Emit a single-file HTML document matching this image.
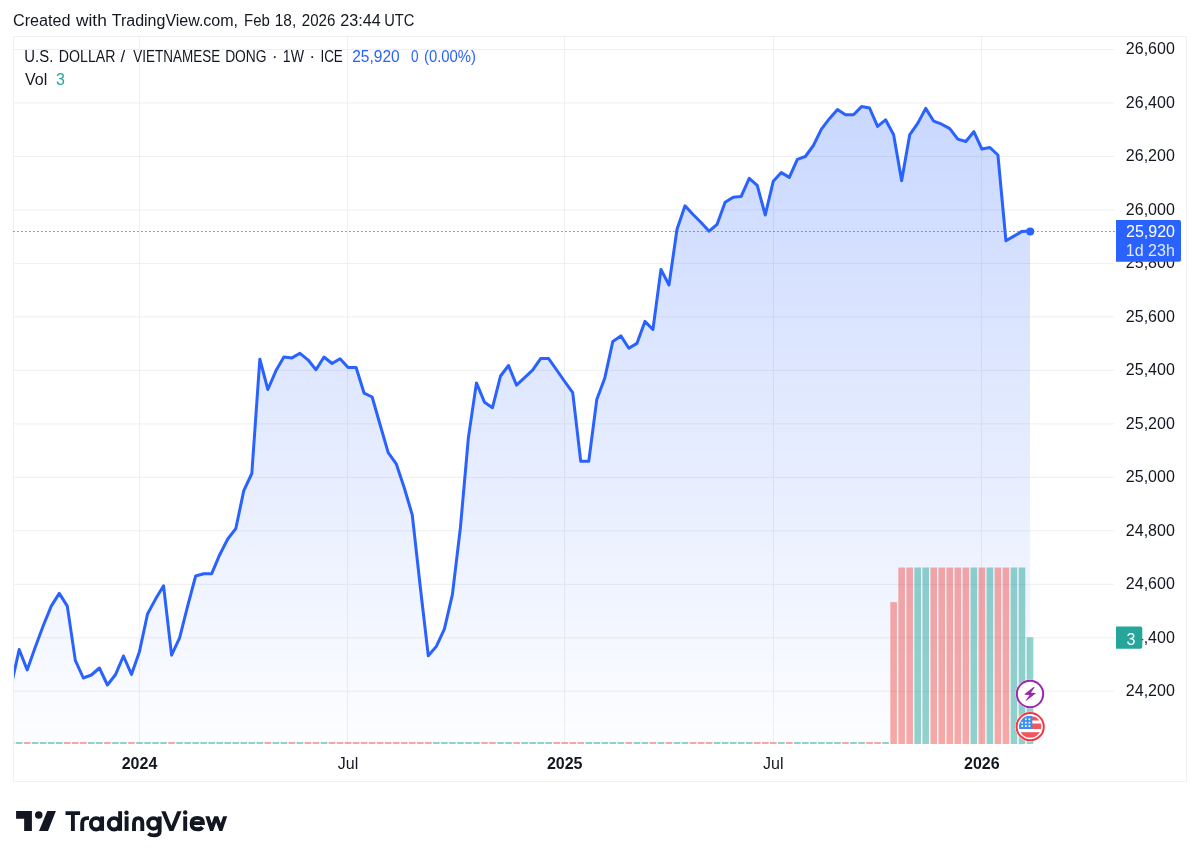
<!DOCTYPE html>
<html><head><meta charset="utf-8"><style>
html,body{margin:0;padding:0;background:#fff;width:1200px;height:862px;overflow:hidden}
svg{display:block;will-change:transform}
text{font-family:"Liberation Sans",sans-serif;fill:#131722}
</style></head><body>
<svg width="1200" height="862" viewBox="0 0 1200 862">
<defs>
<linearGradient id="ag" x1="0" y1="106.6" x2="0" y2="744" gradientUnits="userSpaceOnUse">
<stop offset="0" stop-color="#2962ff" stop-opacity="0.25"/>
<stop offset="1" stop-color="#2962ff" stop-opacity="0.01"/>
</linearGradient>
<clipPath id="pane"><rect x="14" y="37" width="1100" height="707"/></clipPath>
</defs>
<g font-size="16">
<text x="12.99" y="26.2" textLength="57.54" lengthAdjust="spacingAndGlyphs">Created</text>
<text x="76.00" y="26.2" textLength="30.74" lengthAdjust="spacingAndGlyphs">with</text>
<text x="111.75" y="26.2" textLength="126.23" lengthAdjust="spacingAndGlyphs">TradingView.com,</text>
<text x="244.07" y="26.2" textLength="25.78" lengthAdjust="spacingAndGlyphs">Feb</text>
<text x="274.74" y="26.2" textLength="21.47" lengthAdjust="spacingAndGlyphs">18,</text>
<text x="301.76" y="26.2" textLength="33.55" lengthAdjust="spacingAndGlyphs">2026</text>
<text x="340.19" y="26.2" textLength="40.46" lengthAdjust="spacingAndGlyphs">23:44</text>
<text x="384.28" y="26.2" textLength="30.13" lengthAdjust="spacingAndGlyphs">UTC</text>
</g>
<rect x="13.5" y="36.5" width="1173" height="745" fill="none" stroke="#f0f0f0"/>
<g stroke="#efefef" stroke-width="1">
<line x1="14" y1="691.26" x2="1114" y2="691.26"/>
<line x1="14" y1="637.78" x2="1114" y2="637.78"/>
<line x1="14" y1="584.3" x2="1114" y2="584.3"/>
<line x1="14" y1="530.82" x2="1114" y2="530.82"/>
<line x1="14" y1="477.34" x2="1114" y2="477.34"/>
<line x1="14" y1="423.86" x2="1114" y2="423.86"/>
<line x1="14" y1="370.38" x2="1114" y2="370.38"/>
<line x1="14" y1="316.9" x2="1114" y2="316.9"/>
<line x1="14" y1="263.42" x2="1114" y2="263.42"/>
<line x1="14" y1="209.94" x2="1114" y2="209.94"/>
<line x1="14" y1="156.46" x2="1114" y2="156.46"/>
<line x1="14" y1="102.98" x2="1114" y2="102.98"/>
<line x1="14" y1="49.5" x2="1114" y2="49.5"/>
<line x1="139.4" y1="37" x2="139.4" y2="744"/>
<line x1="347.6" y1="37" x2="347.6" y2="744"/>
<line x1="564.5" y1="37" x2="564.5" y2="744"/>
<line x1="773.5" y1="37" x2="773.5" y2="744"/>
<line x1="981.6" y1="37" x2="981.6" y2="744"/>
</g>
<g clip-path="url(#pane)">
<path d="M11.14,686.00 L19.16,649.50 L27.18,669.90 L35.21,647.20 L43.23,625.70 L51.25,606.10 L59.27,593.40 L67.30,606.10 L75.32,660.40 L83.34,678.00 L91.36,675.00 L99.39,668.00 L107.41,685.00 L115.43,674.80 L123.45,656.00 L131.48,674.40 L139.50,651.40 L147.52,614.00 L155.55,599.10 L163.57,585.80 L171.59,655.20 L179.61,637.90 L187.63,606.20 L195.66,576.00 L203.68,573.70 L211.70,573.70 L219.73,554.70 L227.75,539.00 L235.77,528.70 L243.79,490.60 L251.81,473.50 L259.84,359.20 L267.86,389.50 L275.88,370.80 L283.91,357.00 L291.93,357.90 L299.95,353.30 L307.97,359.80 L316.00,369.70 L324.02,357.00 L332.04,363.50 L340.06,358.70 L348.09,367.40 L356.11,367.50 L364.13,393.20 L372.15,397.00 L380.18,425.00 L388.20,452.70 L396.22,463.80 L404.24,487.80 L412.27,514.90 L420.29,587.00 L428.31,655.80 L436.33,646.40 L444.36,629.20 L452.38,594.70 L460.40,527.60 L468.42,437.40 L476.45,382.90 L484.47,402.20 L492.49,407.70 L500.51,376.00 L508.54,365.50 L516.56,385.20 L524.58,377.60 L532.60,370.20 L540.62,358.60 L548.65,358.60 L556.67,370.00 L564.69,381.50 L572.72,392.70 L580.74,461.30 L588.76,461.30 L596.78,399.60 L604.81,377.90 L612.83,341.40 L620.85,335.90 L628.87,348.30 L636.89,343.40 L644.92,321.40 L652.94,329.50 L660.96,269.40 L668.99,285.00 L677.01,229.30 L685.03,205.80 L693.05,214.50 L701.08,222.50 L709.10,231.20 L717.12,224.30 L725.14,202.20 L733.17,197.20 L741.19,196.40 L749.21,178.40 L757.23,185.40 L765.26,215.00 L773.28,181.20 L781.30,172.60 L789.32,177.40 L797.35,159.30 L805.37,156.50 L813.39,145.50 L821.41,129.20 L829.44,118.70 L837.46,109.60 L845.48,114.80 L853.50,114.80 L861.53,106.60 L869.55,108.00 L877.57,126.40 L885.59,119.80 L893.62,134.70 L901.64,180.70 L909.66,134.90 L917.68,123.40 L925.71,108.40 L933.73,121.20 L941.75,124.20 L949.77,128.60 L957.80,139.10 L965.82,141.50 L973.84,131.70 L981.86,149.00 L989.89,147.50 L997.91,155.00 L1005.93,240.80 L1013.95,236.10 L1021.98,231.40 L1030.00,231.00 L1030.00,744 L11.14,744 Z" fill="url(#ag)"/>
<rect x="7.84" y="742.00" width="6.6" height="2.00" fill="rgba(38,166,154,0.5)"/>
<rect x="15.86" y="742.00" width="6.6" height="2.00" fill="rgba(38,166,154,0.5)"/>
<rect x="23.88" y="742.00" width="6.6" height="2.00" fill="rgba(239,83,80,0.5)"/>
<rect x="31.91" y="742.00" width="6.6" height="2.00" fill="rgba(38,166,154,0.5)"/>
<rect x="39.93" y="742.00" width="6.6" height="2.00" fill="rgba(38,166,154,0.5)"/>
<rect x="47.95" y="742.00" width="6.6" height="2.00" fill="rgba(38,166,154,0.5)"/>
<rect x="55.97" y="742.00" width="6.6" height="2.00" fill="rgba(38,166,154,0.5)"/>
<rect x="64.00" y="742.00" width="6.6" height="2.00" fill="rgba(239,83,80,0.5)"/>
<rect x="72.02" y="742.00" width="6.6" height="2.00" fill="rgba(239,83,80,0.5)"/>
<rect x="80.04" y="742.00" width="6.6" height="2.00" fill="rgba(239,83,80,0.5)"/>
<rect x="88.06" y="742.00" width="6.6" height="2.00" fill="rgba(38,166,154,0.5)"/>
<rect x="96.09" y="742.00" width="6.6" height="2.00" fill="rgba(38,166,154,0.5)"/>
<rect x="104.11" y="742.00" width="6.6" height="2.00" fill="rgba(239,83,80,0.5)"/>
<rect x="112.13" y="742.00" width="6.6" height="2.00" fill="rgba(38,166,154,0.5)"/>
<rect x="120.16" y="742.00" width="6.6" height="2.00" fill="rgba(38,166,154,0.5)"/>
<rect x="128.18" y="742.00" width="6.6" height="2.00" fill="rgba(239,83,80,0.5)"/>
<rect x="136.20" y="742.00" width="6.6" height="2.00" fill="rgba(38,166,154,0.5)"/>
<rect x="144.22" y="742.00" width="6.6" height="2.00" fill="rgba(38,166,154,0.5)"/>
<rect x="152.25" y="742.00" width="6.6" height="2.00" fill="rgba(38,166,154,0.5)"/>
<rect x="160.27" y="742.00" width="6.6" height="2.00" fill="rgba(38,166,154,0.5)"/>
<rect x="168.29" y="742.00" width="6.6" height="2.00" fill="rgba(239,83,80,0.5)"/>
<rect x="176.31" y="742.00" width="6.6" height="2.00" fill="rgba(38,166,154,0.5)"/>
<rect x="184.33" y="742.00" width="6.6" height="2.00" fill="rgba(38,166,154,0.5)"/>
<rect x="192.36" y="742.00" width="6.6" height="2.00" fill="rgba(38,166,154,0.5)"/>
<rect x="200.38" y="742.00" width="6.6" height="2.00" fill="rgba(38,166,154,0.5)"/>
<rect x="208.40" y="742.00" width="6.6" height="2.00" fill="rgba(38,166,154,0.5)"/>
<rect x="216.43" y="742.00" width="6.6" height="2.00" fill="rgba(38,166,154,0.5)"/>
<rect x="224.45" y="742.00" width="6.6" height="2.00" fill="rgba(38,166,154,0.5)"/>
<rect x="232.47" y="742.00" width="6.6" height="2.00" fill="rgba(38,166,154,0.5)"/>
<rect x="240.49" y="742.00" width="6.6" height="2.00" fill="rgba(38,166,154,0.5)"/>
<rect x="248.51" y="742.00" width="6.6" height="2.00" fill="rgba(38,166,154,0.5)"/>
<rect x="256.54" y="742.00" width="6.6" height="2.00" fill="rgba(38,166,154,0.5)"/>
<rect x="264.56" y="742.00" width="6.6" height="2.00" fill="rgba(239,83,80,0.5)"/>
<rect x="272.58" y="742.00" width="6.6" height="2.00" fill="rgba(38,166,154,0.5)"/>
<rect x="280.61" y="742.00" width="6.6" height="2.00" fill="rgba(38,166,154,0.5)"/>
<rect x="288.63" y="742.00" width="6.6" height="2.00" fill="rgba(239,83,80,0.5)"/>
<rect x="296.65" y="742.00" width="6.6" height="2.00" fill="rgba(38,166,154,0.5)"/>
<rect x="304.67" y="742.00" width="6.6" height="2.00" fill="rgba(239,83,80,0.5)"/>
<rect x="312.69" y="742.00" width="6.6" height="2.00" fill="rgba(239,83,80,0.5)"/>
<rect x="320.72" y="742.00" width="6.6" height="2.00" fill="rgba(38,166,154,0.5)"/>
<rect x="328.74" y="742.00" width="6.6" height="2.00" fill="rgba(239,83,80,0.5)"/>
<rect x="336.76" y="742.00" width="6.6" height="2.00" fill="rgba(239,83,80,0.5)"/>
<rect x="344.79" y="742.00" width="6.6" height="2.00" fill="rgba(239,83,80,0.5)"/>
<rect x="352.81" y="742.00" width="6.6" height="2.00" fill="rgba(239,83,80,0.5)"/>
<rect x="360.83" y="742.00" width="6.6" height="2.00" fill="rgba(239,83,80,0.5)"/>
<rect x="368.85" y="742.00" width="6.6" height="2.00" fill="rgba(239,83,80,0.5)"/>
<rect x="376.88" y="742.00" width="6.6" height="2.00" fill="rgba(239,83,80,0.5)"/>
<rect x="384.90" y="742.00" width="6.6" height="2.00" fill="rgba(239,83,80,0.5)"/>
<rect x="392.92" y="742.00" width="6.6" height="2.00" fill="rgba(239,83,80,0.5)"/>
<rect x="400.94" y="742.00" width="6.6" height="2.00" fill="rgba(239,83,80,0.5)"/>
<rect x="408.97" y="742.00" width="6.6" height="2.00" fill="rgba(239,83,80,0.5)"/>
<rect x="416.99" y="742.00" width="6.6" height="2.00" fill="rgba(239,83,80,0.5)"/>
<rect x="425.01" y="742.00" width="6.6" height="2.00" fill="rgba(239,83,80,0.5)"/>
<rect x="433.03" y="742.00" width="6.6" height="2.00" fill="rgba(38,166,154,0.5)"/>
<rect x="441.06" y="742.00" width="6.6" height="2.00" fill="rgba(38,166,154,0.5)"/>
<rect x="449.08" y="742.00" width="6.6" height="2.00" fill="rgba(38,166,154,0.5)"/>
<rect x="457.10" y="742.00" width="6.6" height="2.00" fill="rgba(38,166,154,0.5)"/>
<rect x="465.12" y="742.00" width="6.6" height="2.00" fill="rgba(38,166,154,0.5)"/>
<rect x="473.15" y="742.00" width="6.6" height="2.00" fill="rgba(38,166,154,0.5)"/>
<rect x="481.17" y="742.00" width="6.6" height="2.00" fill="rgba(239,83,80,0.5)"/>
<rect x="489.19" y="742.00" width="6.6" height="2.00" fill="rgba(239,83,80,0.5)"/>
<rect x="497.21" y="742.00" width="6.6" height="2.00" fill="rgba(38,166,154,0.5)"/>
<rect x="505.24" y="742.00" width="6.6" height="2.00" fill="rgba(38,166,154,0.5)"/>
<rect x="513.26" y="742.00" width="6.6" height="2.00" fill="rgba(239,83,80,0.5)"/>
<rect x="521.28" y="742.00" width="6.6" height="2.00" fill="rgba(38,166,154,0.5)"/>
<rect x="529.30" y="742.00" width="6.6" height="2.00" fill="rgba(38,166,154,0.5)"/>
<rect x="537.33" y="742.00" width="6.6" height="2.00" fill="rgba(38,166,154,0.5)"/>
<rect x="545.35" y="742.00" width="6.6" height="2.00" fill="rgba(38,166,154,0.5)"/>
<rect x="553.37" y="742.00" width="6.6" height="2.00" fill="rgba(239,83,80,0.5)"/>
<rect x="561.39" y="742.00" width="6.6" height="2.00" fill="rgba(239,83,80,0.5)"/>
<rect x="569.42" y="742.00" width="6.6" height="2.00" fill="rgba(239,83,80,0.5)"/>
<rect x="577.44" y="742.00" width="6.6" height="2.00" fill="rgba(239,83,80,0.5)"/>
<rect x="585.46" y="742.00" width="6.6" height="2.00" fill="rgba(38,166,154,0.5)"/>
<rect x="593.48" y="742.00" width="6.6" height="2.00" fill="rgba(38,166,154,0.5)"/>
<rect x="601.51" y="742.00" width="6.6" height="2.00" fill="rgba(38,166,154,0.5)"/>
<rect x="609.53" y="742.00" width="6.6" height="2.00" fill="rgba(38,166,154,0.5)"/>
<rect x="617.55" y="742.00" width="6.6" height="2.00" fill="rgba(38,166,154,0.5)"/>
<rect x="625.57" y="742.00" width="6.6" height="2.00" fill="rgba(239,83,80,0.5)"/>
<rect x="633.60" y="742.00" width="6.6" height="2.00" fill="rgba(38,166,154,0.5)"/>
<rect x="641.62" y="742.00" width="6.6" height="2.00" fill="rgba(38,166,154,0.5)"/>
<rect x="649.64" y="742.00" width="6.6" height="2.00" fill="rgba(239,83,80,0.5)"/>
<rect x="657.66" y="742.00" width="6.6" height="2.00" fill="rgba(38,166,154,0.5)"/>
<rect x="665.69" y="742.00" width="6.6" height="2.00" fill="rgba(239,83,80,0.5)"/>
<rect x="673.71" y="742.00" width="6.6" height="2.00" fill="rgba(38,166,154,0.5)"/>
<rect x="681.73" y="742.00" width="6.6" height="2.00" fill="rgba(38,166,154,0.5)"/>
<rect x="689.75" y="742.00" width="6.6" height="2.00" fill="rgba(239,83,80,0.5)"/>
<rect x="697.78" y="742.00" width="6.6" height="2.00" fill="rgba(239,83,80,0.5)"/>
<rect x="705.80" y="742.00" width="6.6" height="2.00" fill="rgba(239,83,80,0.5)"/>
<rect x="713.82" y="742.00" width="6.6" height="2.00" fill="rgba(38,166,154,0.5)"/>
<rect x="721.84" y="742.00" width="6.6" height="2.00" fill="rgba(38,166,154,0.5)"/>
<rect x="729.87" y="742.00" width="6.6" height="2.00" fill="rgba(38,166,154,0.5)"/>
<rect x="737.89" y="742.00" width="6.6" height="2.00" fill="rgba(38,166,154,0.5)"/>
<rect x="745.91" y="742.00" width="6.6" height="2.00" fill="rgba(38,166,154,0.5)"/>
<rect x="753.93" y="742.00" width="6.6" height="2.00" fill="rgba(239,83,80,0.5)"/>
<rect x="761.96" y="742.00" width="6.6" height="2.00" fill="rgba(239,83,80,0.5)"/>
<rect x="769.98" y="742.00" width="6.6" height="2.00" fill="rgba(239,83,80,0.5)"/>
<rect x="778.00" y="742.00" width="6.6" height="2.00" fill="rgba(38,166,154,0.5)"/>
<rect x="786.02" y="742.00" width="6.6" height="2.00" fill="rgba(239,83,80,0.5)"/>
<rect x="794.05" y="742.00" width="6.6" height="2.00" fill="rgba(38,166,154,0.5)"/>
<rect x="802.07" y="742.00" width="6.6" height="2.00" fill="rgba(38,166,154,0.5)"/>
<rect x="810.09" y="742.00" width="6.6" height="2.00" fill="rgba(38,166,154,0.5)"/>
<rect x="818.11" y="742.00" width="6.6" height="2.00" fill="rgba(38,166,154,0.5)"/>
<rect x="826.14" y="742.00" width="6.6" height="2.00" fill="rgba(38,166,154,0.5)"/>
<rect x="834.16" y="742.00" width="6.6" height="2.00" fill="rgba(38,166,154,0.5)"/>
<rect x="842.18" y="742.00" width="6.6" height="2.00" fill="rgba(239,83,80,0.5)"/>
<rect x="850.20" y="742.00" width="6.6" height="2.00" fill="rgba(38,166,154,0.5)"/>
<rect x="858.23" y="742.00" width="6.6" height="2.00" fill="rgba(38,166,154,0.5)"/>
<rect x="866.25" y="742.00" width="6.6" height="2.00" fill="rgba(239,83,80,0.5)"/>
<rect x="874.27" y="742.00" width="6.6" height="2.00" fill="rgba(239,83,80,0.5)"/>
<rect x="882.29" y="742.00" width="6.6" height="2.00" fill="rgba(38,166,154,0.5)"/>
<rect x="890.32" y="602.10" width="6.6" height="141.90" fill="rgba(239,83,80,0.5)"/>
<rect x="898.34" y="567.50" width="6.6" height="176.50" fill="rgba(239,83,80,0.5)"/>
<rect x="906.36" y="567.50" width="6.6" height="176.50" fill="rgba(239,83,80,0.5)"/>
<rect x="914.38" y="567.50" width="6.6" height="176.50" fill="rgba(38,166,154,0.5)"/>
<rect x="922.41" y="567.50" width="6.6" height="176.50" fill="rgba(38,166,154,0.5)"/>
<rect x="930.43" y="567.50" width="6.6" height="176.50" fill="rgba(239,83,80,0.5)"/>
<rect x="938.45" y="567.50" width="6.6" height="176.50" fill="rgba(239,83,80,0.5)"/>
<rect x="946.47" y="567.50" width="6.6" height="176.50" fill="rgba(239,83,80,0.5)"/>
<rect x="954.50" y="567.50" width="6.6" height="176.50" fill="rgba(239,83,80,0.5)"/>
<rect x="962.52" y="567.50" width="6.6" height="176.50" fill="rgba(239,83,80,0.5)"/>
<rect x="970.54" y="567.50" width="6.6" height="176.50" fill="rgba(38,166,154,0.5)"/>
<rect x="978.56" y="567.50" width="6.6" height="176.50" fill="rgba(239,83,80,0.5)"/>
<rect x="986.59" y="567.50" width="6.6" height="176.50" fill="rgba(38,166,154,0.5)"/>
<rect x="994.61" y="567.50" width="6.6" height="176.50" fill="rgba(239,83,80,0.5)"/>
<rect x="1002.63" y="567.50" width="6.6" height="176.50" fill="rgba(239,83,80,0.5)"/>
<rect x="1010.65" y="567.50" width="6.6" height="176.50" fill="rgba(38,166,154,0.5)"/>
<rect x="1018.68" y="567.50" width="6.6" height="176.50" fill="rgba(38,166,154,0.5)"/>
<rect x="1026.70" y="637.30" width="6.6" height="106.70" fill="rgba(38,166,154,0.5)"/>
<path d="M11.14,686.00 L19.16,649.50 L27.18,669.90 L35.21,647.20 L43.23,625.70 L51.25,606.10 L59.27,593.40 L67.30,606.10 L75.32,660.40 L83.34,678.00 L91.36,675.00 L99.39,668.00 L107.41,685.00 L115.43,674.80 L123.45,656.00 L131.48,674.40 L139.50,651.40 L147.52,614.00 L155.55,599.10 L163.57,585.80 L171.59,655.20 L179.61,637.90 L187.63,606.20 L195.66,576.00 L203.68,573.70 L211.70,573.70 L219.73,554.70 L227.75,539.00 L235.77,528.70 L243.79,490.60 L251.81,473.50 L259.84,359.20 L267.86,389.50 L275.88,370.80 L283.91,357.00 L291.93,357.90 L299.95,353.30 L307.97,359.80 L316.00,369.70 L324.02,357.00 L332.04,363.50 L340.06,358.70 L348.09,367.40 L356.11,367.50 L364.13,393.20 L372.15,397.00 L380.18,425.00 L388.20,452.70 L396.22,463.80 L404.24,487.80 L412.27,514.90 L420.29,587.00 L428.31,655.80 L436.33,646.40 L444.36,629.20 L452.38,594.70 L460.40,527.60 L468.42,437.40 L476.45,382.90 L484.47,402.20 L492.49,407.70 L500.51,376.00 L508.54,365.50 L516.56,385.20 L524.58,377.60 L532.60,370.20 L540.62,358.60 L548.65,358.60 L556.67,370.00 L564.69,381.50 L572.72,392.70 L580.74,461.30 L588.76,461.30 L596.78,399.60 L604.81,377.90 L612.83,341.40 L620.85,335.90 L628.87,348.30 L636.89,343.40 L644.92,321.40 L652.94,329.50 L660.96,269.40 L668.99,285.00 L677.01,229.30 L685.03,205.80 L693.05,214.50 L701.08,222.50 L709.10,231.20 L717.12,224.30 L725.14,202.20 L733.17,197.20 L741.19,196.40 L749.21,178.40 L757.23,185.40 L765.26,215.00 L773.28,181.20 L781.30,172.60 L789.32,177.40 L797.35,159.30 L805.37,156.50 L813.39,145.50 L821.41,129.20 L829.44,118.70 L837.46,109.60 L845.48,114.80 L853.50,114.80 L861.53,106.60 L869.55,108.00 L877.57,126.40 L885.59,119.80 L893.62,134.70 L901.64,180.70 L909.66,134.90 L917.68,123.40 L925.71,108.40 L933.73,121.20 L941.75,124.20 L949.77,128.60 L957.80,139.10 L965.82,141.50 L973.84,131.70 L981.86,149.00 L989.89,147.50 L997.91,155.00 L1005.93,240.80 L1013.95,236.10 L1021.98,231.40 L1030.00,231.00" fill="none" stroke="#2962ff" stroke-width="3" stroke-linejoin="round" stroke-linecap="round"/>
</g>
<line x1="13.3" y1="231.5" x2="1116" y2="231.5" stroke="#2962ff" stroke-width="1" stroke-dasharray="1.2 2.8"/>
<circle cx="1030.2" cy="231.4" r="4" fill="#2962ff"/>
<g font-size="16">
<text x="1174.8" y="696.32" text-anchor="end">24,200</text>
<text x="1174.8" y="642.80" text-anchor="end">24,400</text>
<text x="1174.8" y="589.28" text-anchor="end">24,600</text>
<text x="1174.8" y="535.76" text-anchor="end">24,800</text>
<text x="1174.8" y="482.24" text-anchor="end">25,000</text>
<text x="1174.8" y="428.72" text-anchor="end">25,200</text>
<text x="1174.8" y="375.20" text-anchor="end">25,400</text>
<text x="1174.8" y="321.68" text-anchor="end">25,600</text>
<text x="1174.8" y="268.16" text-anchor="end">25,800</text>
<text x="1174.8" y="214.64" text-anchor="end">26,000</text>
<text x="1174.8" y="161.12" text-anchor="end">26,200</text>
<text x="1174.8" y="107.60" text-anchor="end">26,400</text>
<text x="1174.8" y="54.08" text-anchor="end">26,600</text>
</g>
<g font-size="16">
</g><g font-size="16"><text x="24.32" y="62.3" textLength="28.97" lengthAdjust="spacingAndGlyphs">U.S.</text>
<text x="58.87" y="62.3" textLength="56.54" lengthAdjust="spacingAndGlyphs">DOLLAR</text>
<text x="120.50" y="62.3" textLength="4.67" lengthAdjust="spacingAndGlyphs">/</text>
<text x="133.25" y="62.3" textLength="86.87" lengthAdjust="spacingAndGlyphs">VIETNAMESE</text>
<text x="225.14" y="62.3" textLength="41.48" lengthAdjust="spacingAndGlyphs">DONG</text>
<text x="271.75" y="62.3" textLength="6.00" lengthAdjust="spacingAndGlyphs">·</text>
<text x="282.87" y="62.3" textLength="21.13" lengthAdjust="spacingAndGlyphs">1W</text>
<text x="309.25" y="62.3" textLength="6.00" lengthAdjust="spacingAndGlyphs">·</text>
<text x="320.41" y="62.3" textLength="22.40" lengthAdjust="spacingAndGlyphs">ICE</text>
<text x="352.23" y="62.3" textLength="47.51" lengthAdjust="spacingAndGlyphs" style="fill:#2962ff">25,920</text>
<text x="410.90" y="62.3" textLength="7.52" lengthAdjust="spacingAndGlyphs" style="fill:#2962ff">0</text>
<text x="423.97" y="62.3" textLength="52.09" lengthAdjust="spacingAndGlyphs" style="fill:#2962ff">(0.00%)</text>
</g><g font-size="16">
<text x="25" y="85">Vol</text>
<text x="56" y="85" style="fill:#26a69a">3</text>
</g>
<path d="M1116,220 H1179 A2,2 0 0 1 1181,222 V259.7 A2,2 0 0 1 1179,261.7 H1116 Z" fill="#2962ff"/>
<g font-size="16">
<text x="1175" y="237.2" text-anchor="end" style="fill:#fff">25,920</text>
<text x="1174.8" y="255.6" text-anchor="end" style="fill:rgba(255,255,255,0.85)">1d 23h</text>
</g>
<path d="M1116,626.4 H1140.3 A2,2 0 0 1 1142.3,628.4 V646.7 A2,2 0 0 1 1140.3,648.7 H1116 Z" fill="#26a69a"/>
<text x="1131" y="644.5" text-anchor="middle" font-size="16" style="fill:#fff">3</text>
<g font-size="16">
<text x="139.50" y="769" text-anchor="middle" font-weight="700">2024</text>
<text x="348.09" y="769" text-anchor="middle" font-weight="400">Jul</text>
<text x="564.69" y="769" text-anchor="middle" font-weight="700">2025</text>
<text x="773.28" y="769" text-anchor="middle" font-weight="400">Jul</text>
<text x="981.86" y="769" text-anchor="middle" font-weight="700">2026</text>
</g>
<!-- lightning icon -->
<circle cx="1030" cy="694" r="14.5" fill="#fff"/>
<circle cx="1030" cy="694" r="13.2" fill="#fff" stroke="#9c27b0" stroke-width="2"/>
<path d="M1033.2,687.2 Q1034,686.5 1034.6,687.6 L1030.9,692.7 L1035.4,692.9 Q1036.2,693.1 1035.6,693.6 L1026.6,700.6 Q1025.6,701.2 1025.9,700.2 L1029.6,695 L1024.9,694.8 Q1023.9,694.6 1024.7,693.9 Z" fill="#9c27b0"/>
<!-- flag icon -->
<circle cx="1030.2" cy="726.7" r="15" fill="#fff"/>
<circle cx="1030.2" cy="726.7" r="13.6" fill="#fff" stroke="#f23645" stroke-width="2"/>
<clipPath id="fc"><circle cx="1030.2" cy="726.7" r="11"/></clipPath>
<g clip-path="url(#fc)">
<rect x="1018" y="715" width="25" height="25" fill="#fff"/>
<rect x="1018" y="716.5" width="25" height="4" fill="#f0565d"/>
<rect x="1018" y="723.5" width="25" height="5.5" fill="#f0565d"/>
<rect x="1018" y="732.2" width="25" height="6" fill="#f0565d"/>
<rect x="1018" y="714" width="14.3" height="15" fill="#3d8ef0"/>
</g>
<g fill="#fff"><circle cx="1025.8" cy="719.3" r="1"/><circle cx="1029.4" cy="719.3" r="1"/><circle cx="1022.2" cy="722.7" r="1"/><circle cx="1025.8" cy="722.7" r="1"/><circle cx="1029.4" cy="722.7" r="1"/><circle cx="1022.2" cy="726.1" r="1"/><circle cx="1025.8" cy="726.1" r="1"/><circle cx="1029.4" cy="726.1" r="1"/></g>
<!-- logo -->
<g fill="#131722">
<path d="M16.1,811.1 H31.9 V830.9 H24.15 V818.75 H16.1 Z"/>
<circle cx="38.75" cy="815" r="3.75"/>
<path d="M47.25,811.1 H55.9 L48,830.9 H39 Z"/>
</g>
<clipPath id="lc"><rect x="60" y="811.2" width="180" height="30"/></clipPath>
<clipPath id="lw"><rect x="200" y="816.2" width="40" height="14.7"/></clipPath>
<g fill="none" stroke="#131722" stroke-width="3.9">
<path d="M65.5,813.1 H80.1 M72.9,813 V830.9"/>
<path d="M82.2,830.9 V823.2 Q82.2,818.1 87.2,818.1 H89"/>
<ellipse cx="96.15" cy="823.85" rx="5.25" ry="5.7"/>
<path d="M102.1,816.4 V830.9"/>
<ellipse cx="114.05" cy="823.85" rx="5.3" ry="5.7"/>
<path d="M120.1,811.2 V830.9"/>
<path d="M126.6,816.4 V830.9"/>
<path d="M134,830.9 V823.5 Q134,818.1 138.3,818.1 Q142.3,818.1 142.3,823 V830.9"/>
<ellipse cx="153.4" cy="823.4" rx="5.25" ry="5.3"/>
<path d="M159.65,816.4 V831.5 Q159.65,835.35 154,835.35 Q150.3,835.35 148.3,833.6"/>
<path d="M185.2,816.4 V830.9"/>
<path d="M191.6,823.1 H202.9 Q202.9,817.9 197.3,817.9 Q191.6,817.9 191.6,823.6 Q191.6,829.3 197.3,829.3 Q200.9,829.3 202.5,827.2"/>
<polyline clip-path="url(#lw)" stroke-linejoin="miter" stroke-miterlimit="10" points="207.1,815.5 211.6,829.4 216.2,816.6 220.8,829.4 225.4,815.5"/>
</g>
<g fill="#131722">
<circle cx="126.5" cy="812.7" r="2.2"/>
<circle cx="185.2" cy="812.5" r="2.2"/>
<path d="M161.2,811.3 H165.6 L171.4,825.8 L177.2,811.3 H181.6 L173.4,830.9 H169.4 Z"/>
</g>
</svg>
</body></html>
